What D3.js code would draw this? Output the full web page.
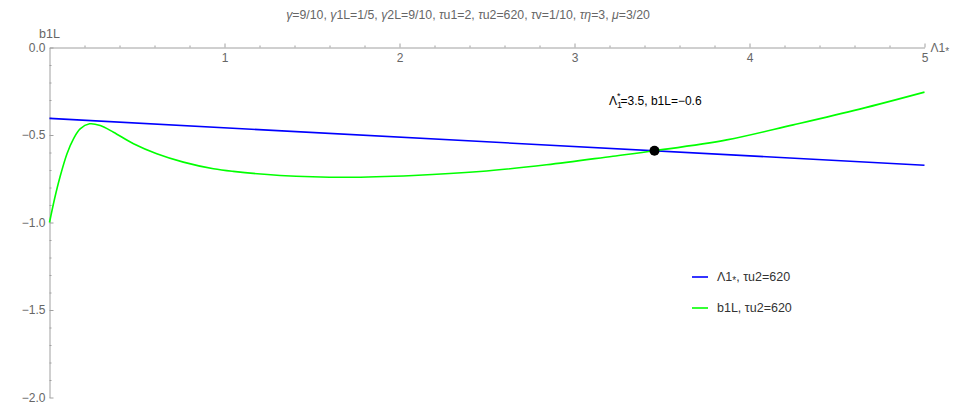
<!DOCTYPE html>
<html>
<head>
<meta charset="utf-8">
<script src="https://cdn.jsdelivr.net/npm/d3@7"></script>
<style>
  body { margin: 0; background: #fff; }
  svg { font-family: "Liberation Sans", Arial, sans-serif; }
  .axis path, .axis line { stroke: #a0a0a0; }
  .axis text { fill: #666; font-size: 12px; }
</style>
</head>
<body>
<svg id="chart" width="973" height="407"></svg>
<script>
// green curve b1L vs Λ1*
const lamValues = [0, 0.03, 0.06, 0.1, 0.137, 0.175, 0.229, 0.29, 0.366, 0.48, 0.613, 0.765, 0.937, 1.05,
                   1.318, 1.70, 2.08, 2.46, 2.84, 3.22, 3.457, 3.87, 4.25, 4.63, 5.0]
const b1Values  = [-1.0, -0.86, -0.74, -0.607, -0.522, -0.465, -0.436, -0.446, -0.484, -0.55, -0.607, -0.655, -0.693, -0.708,
                   -0.731, -0.741, -0.731, -0.709, -0.670, -0.621, -0.590, -0.528, -0.442, -0.352, -0.255]
// blue straight line Λ1*
const blueX = [0, 5]
const blueY = [-0.405, -0.673]
// crossing point
const crossX = [3.457]
const crossY = [-0.590]

const xTicks = [1, 2, 3, 4, 5]
const yTicks = [0, -0.5, -1.0, -1.5, -2.0]
const titleText = "γ=9/10, γ1L=1/5, γ2L=9/10, τu1=2, τu2=620, τv=1/10, τη=3, μ=3/20"
const legendLabels = ["Λ1*, τu2=620", "b1L, τu2=620"]
const legendColors = ["#0000ff", "#00ff00"]

let svg = d3.select("#chart")
let xScale = d3.scaleLinear().domain([0, 5]).range([49.5, 924.5])
let yScale = d3.scaleLinear().domain([-2, 0]).range([397.5, 47.5])

// minor ticks
let minorX = d3.range(1, 26).map(d => d / 5).filter(d => !xTicks.includes(d))
let minorY = d3.range(-20, 0).map(d => d / 10).filter(d => !yTicks.includes(d))

// x axis (ticks point up, labels below)
svg.append("g").attr("class", "axis")
    .attr("transform", `translate(0,${yScale(0)})`)
    .call(d3.axisBottom(xScale).tickValues(minorX).tickSizeInner(-2).tickSizeOuter(0).tickFormat(""))
svg.append("g").attr("class", "axis")
    .attr("transform", `translate(0,${yScale(0)})`)
    .call(d3.axisBottom(xScale).tickValues(xTicks).tickSizeInner(-4).tickSizeOuter(0).tickPadding(6).tickFormat(d3.format("d")))
    .call(g => g.select(".domain").remove())

// y axis (ticks point right)
svg.append("g").attr("class", "axis")
    .attr("transform", `translate(${xScale(0)},0)`)
    .call(d3.axisLeft(yScale).tickValues(minorY).tickSizeInner(-2).tickSizeOuter(0).tickFormat(""))
svg.append("g").attr("class", "axis")
    .attr("transform", `translate(${xScale(0)},0)`)
    .call(d3.axisLeft(yScale).tickValues(yTicks).tickSizeInner(-4).tickSizeOuter(0).tickPadding(4).tickFormat(d3.format(".1f")))
    .call(g => g.select(".domain").remove())

// axis labels
svg.append("text").attr("x", xScale(0)).attr("y", 38).attr("text-anchor", "middle")
    .attr("fill", "#666").attr("font-size", "12.5px").text("b1L")
let xl = svg.append("text").attr("x", xScale(5) + 6).attr("y", yScale(0) + 4)
    .attr("fill", "#666").attr("font-size", "12px")
xl.append("tspan").text("Λ1")
xl.append("tspan").attr("font-size", "10px").attr("dy", 3).text("*")

// title
let title = svg.append("text").attr("x", 468).attr("y", 19).attr("text-anchor", "middle")
    .attr("fill", "#666").attr("font-size", "12.3px")
titleText.split(/([γτμη])/).forEach(function (s) {
    if (s === "") return
    let t = title.append("tspan").text(s)
    if (/[γτμη]/.test(s)) t.attr("font-style", "italic")
})

// lines
let line = d3.line().x(d => xScale(d[0])).y(d => yScale(d[1])).curve(d3.curveCatmullRom.alpha(0.5))
svg.append("path").datum(d3.zip(blueX, blueY))
    .attr("d", line).attr("fill", "none").attr("stroke", legendColors[0]).attr("stroke-width", 1.6)
svg.append("path").datum(d3.zip(lamValues, b1Values))
    .attr("d", line).attr("fill", "none").attr("stroke", legendColors[1]).attr("stroke-width", 1.6)

// crossing point
svg.selectAll(".cross").data(d3.zip(crossX, crossY)).enter().append("circle")
    .attr("class", "cross")
    .attr("cx", d => xScale(d[0])).attr("cy", d => yScale(d[1])).attr("r", 5).attr("fill", "#000")

// annotation
let ann = svg.append("text").attr("x", 609).attr("y", 105).attr("fill", "#000").attr("font-size", "12px")
ann.append("tspan").text("Λ")
ann.append("tspan").attr("font-size", "9px").attr("dy", 3).text("1")
ann.append("tspan").attr("font-size", "9px").attr("dx", -5).attr("dy", -9).text("*")
ann.append("tspan").attr("dy", 6).text("=3.5, b1L=−0.6")

// legend
legendLabels.forEach(function (d, i) {
    let lgnd = svg.append("g").attr("transform", `translate(692,${277 + i * 31})`)
    lgnd.append("line").attr("x1", 0).attr("x2", 16).attr("stroke", legendColors[i]).attr("stroke-width", 1.6)
    let t = lgnd.append("text").attr("x", 25).attr("dy", "0.35em").attr("fill", "#333").attr("font-size", "12.5px")
    let parts = d.split("*")
    t.append("tspan").text(parts[0])
    if (parts.length > 1) {
        t.append("tspan").attr("font-size", "10px").attr("dy", 3).text("*")
        t.append("tspan").attr("dy", -3).text(parts[1])
    }
})
</script>
</body>
</html>
